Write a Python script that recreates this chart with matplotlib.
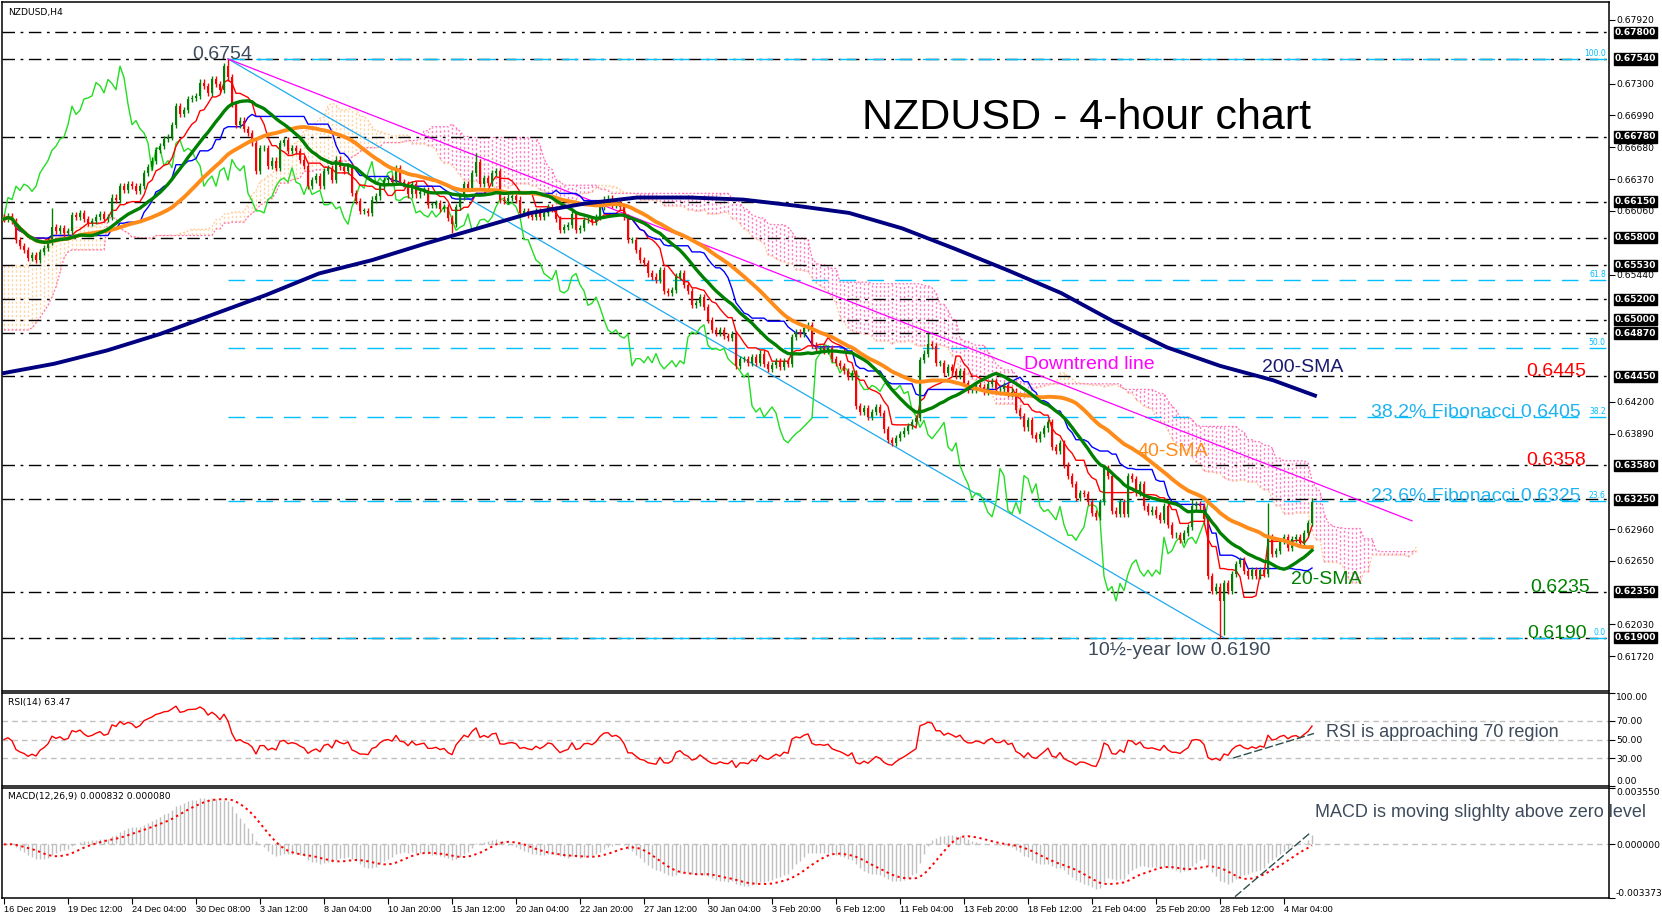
import numpy as np
import pandas as pd
import matplotlib
matplotlib.use("Agg")
import matplotlib.pyplot as plt

# ---- data (H4 closes, bar 0 = 16 Dec 2019 00:00) ----
closes = [
    0.6598, 0.6601, 0.6596, 0.6578, 0.6572, 0.6568, 0.6560, 0.6563, 0.6558, 0.6566, 0.6570, 0.6576, 0.6590, 0.6586, 0.6589, 0.6584,
    0.6586, 0.6602, 0.6600, 0.6604, 0.6598, 0.6594, 0.6596, 0.6600, 0.6603, 0.6598, 0.6600, 0.6619, 0.6617, 0.6630, 0.6626, 0.6632,
    0.6630, 0.6625, 0.6630, 0.6643, 0.6649, 0.6655, 0.6665, 0.6669, 0.6676, 0.6678, 0.6690, 0.6708, 0.6700, 0.6704, 0.6715, 0.6716,
    0.6718, 0.6731, 0.6728, 0.6721, 0.6734, 0.6730, 0.6724, 0.6747, 0.6736, 0.6710, 0.6690, 0.6694, 0.6686, 0.6682, 0.6672, 0.6645,
    0.6667, 0.6667, 0.6650, 0.6655, 0.6648, 0.6672, 0.6675, 0.6664, 0.6667, 0.6664, 0.6656, 0.6650, 0.6630, 0.6636, 0.6640, 0.6630,
    0.6645, 0.6648, 0.6636, 0.6656, 0.6649, 0.6645, 0.6650, 0.6623, 0.6616, 0.6606, 0.6606, 0.6604, 0.6617, 0.6620, 0.6630, 0.6636,
    0.6638, 0.6634, 0.6648, 0.6634, 0.6632, 0.6622, 0.6632, 0.6622, 0.6624, 0.6626, 0.6612, 0.6612, 0.6614, 0.6608, 0.6610, 0.6599,
    0.6593, 0.6610, 0.6620, 0.6632, 0.6628, 0.6643, 0.6654, 0.6632, 0.6638, 0.6633, 0.6643, 0.6645, 0.6617, 0.6616, 0.6619, 0.6620,
    0.6617, 0.6604, 0.6606, 0.6602, 0.6600, 0.6606, 0.6600, 0.6604, 0.6610, 0.6608, 0.6598, 0.6587, 0.6590, 0.6592, 0.6603, 0.6587,
    0.6589, 0.6597, 0.6598, 0.6595, 0.6600, 0.6610, 0.6617, 0.6618, 0.6612, 0.6614, 0.6610, 0.6600, 0.6578, 0.6578, 0.6568, 0.6558,
    0.6555, 0.6545, 0.6542, 0.6539, 0.6548, 0.6528, 0.6526, 0.6529, 0.6542, 0.6545, 0.6534, 0.6528, 0.6514, 0.6516, 0.6522, 0.6512,
    0.6500, 0.6490, 0.6487, 0.6490, 0.6484, 0.6482, 0.6486, 0.6455, 0.6462, 0.6462, 0.6458, 0.6464, 0.6458, 0.6467, 0.6457, 0.6452,
    0.6456, 0.6460, 0.6454, 0.6460, 0.6457, 0.6483, 0.6488, 0.6486, 0.6492, 0.6495, 0.6475, 0.6471, 0.6472, 0.6470, 0.6472, 0.6462,
    0.6458, 0.6455, 0.6450, 0.6444, 0.6448, 0.6416, 0.6410, 0.6414, 0.6405, 0.6410, 0.6415, 0.6409, 0.6393, 0.6383, 0.6380, 0.6385,
    0.6389, 0.6392, 0.6396, 0.6400, 0.6404, 0.6461, 0.6467, 0.6476, 0.6474, 0.6458, 0.6458, 0.6448, 0.6454, 0.6450, 0.6445, 0.6450,
    0.6438, 0.6432, 0.6432, 0.6436, 0.6434, 0.6430, 0.6437, 0.6440, 0.6432, 0.6432, 0.6436, 0.6428, 0.6430, 0.6412, 0.6406, 0.6395,
    0.6402, 0.6388, 0.6384, 0.6389, 0.6394, 0.6400, 0.6376, 0.6372, 0.6380, 0.6358, 0.6348, 0.6340, 0.6326, 0.6331, 0.6330, 0.6322,
    0.6312, 0.6308, 0.6322, 0.6355, 0.6348, 0.6314, 0.6311, 0.6322, 0.6311, 0.6348, 0.6345, 0.6331, 0.6340, 0.6318, 0.6313, 0.6315,
    0.6310, 0.6305, 0.6318, 0.6300, 0.6290, 0.6290, 0.6285, 0.6292, 0.6298, 0.6318, 0.6320, 0.6318, 0.6306, 0.6250, 0.6236, 0.6240,
    0.6226, 0.6243, 0.6236, 0.6252, 0.6262, 0.6266, 0.6255, 0.6250, 0.6256, 0.6250, 0.6256, 0.6252, 0.6288, 0.6272, 0.6275, 0.6284,
    0.6288, 0.6278, 0.6286, 0.6288, 0.6282, 0.6292, 0.6302, 0.6322,
]
first_open = 0.6600
# wick extremes that stand out on the chart
wick_highs = {12: 0.6609, 56: 0.6754, 118: 0.6662, 231: 0.6487, 297: 0.6325, 316: 0.6321, 327: 0.6326}
wick_lows = {112: 0.6584, 304: 0.6190, 305: 0.6193}

# cloud over the first 26 bars comes from data before the chart: read directly
spanA_pre = [0.6552, 0.6552, 0.6553, 0.6553, 0.6552, 0.6552, 0.6554, 0.6556, 0.6562, 0.6566, 0.6569, 0.6570, 0.6572,
             0.6576, 0.6580, 0.6584, 0.6586, 0.6588, 0.6590, 0.6590, 0.6591, 0.6591, 0.6590, 0.6592, 0.6593, 0.6593]
spanB_pre = [0.6490, 0.6490, 0.6490, 0.6490, 0.6490, 0.6490, 0.6490, 0.6492, 0.6497, 0.6502, 0.6508, 0.6514, 0.6522,
             0.6532, 0.6546, 0.6560, 0.6566, 0.6568, 0.6568, 0.6568, 0.6568, 0.6568, 0.6568, 0.6568, 0.6568, 0.6568]

# 200-SMA (needs history before the chart, so read directly)
sma200_bars = [0, 12.5, 25.75, 39, 52.25, 65.5, 78.75, 92, 105.25, 118.5, 131.75, 145, 158.25,
               171.5, 184.75, 198, 211.25, 224.5, 237.75, 251, 264.25, 277.5, 290.75, 304, 317.25, 327.75]
sma200_vals = [0.6448, 0.6457, 0.6470, 0.6486, 0.6505, 0.6524, 0.6545, 0.6558, 0.6574, 0.6589, 0.6604, 0.6613, 0.6619,
               0.6619, 0.6617, 0.6611, 0.6604, 0.6589, 0.6569, 0.6548, 0.6526, 0.6498, 0.6473, 0.6455, 0.6441, 0.6426]

levels = [0.6780, 0.6754, 0.6678, 0.6615, 0.6580, 0.6553, 0.6520, 0.6500, 0.6487, 0.6445, 0.6358, 0.6325, 0.6235, 0.6190]
fib_pcts = [100.0, 61.8, 50.0, 38.2, 23.6, 0.0]
fib_high, fib_low = 0.6754, 0.6190
peak_bar, low_bar = 56, 305
trend_end_bar, trend_end_val = 352, 0.6304
rsi_seed = 0.0003  # starting average move for the RSI smoothing

date_labels = ["16 Dec 2019", "19 Dec 12:00", "24 Dec 04:00", "30 Dec 08:00", "3 Jan 12:00", "8 Jan 04:00",
               "10 Jan 20:00", "15 Jan 12:00", "20 Jan 04:00", "22 Jan 20:00", "27 Jan 12:00", "30 Jan 04:00",
               "3 Feb 20:00", "6 Feb 12:00", "11 Feb 04:00", "13 Feb 20:00", "18 Feb 12:00", "21 Feb 04:00",
               "25 Feb 20:00", "28 Feb 12:00", "4 Mar 04:00"]
price_ticks = [0.61720, 0.62030, 0.62340, 0.62650, 0.62960, 0.63270, 0.63580, 0.63890, 0.64200, 0.64510, 0.64820,
               0.65130, 0.65440, 0.65750, 0.66060, 0.66370, 0.66680, 0.66990, 0.67300, 0.67610, 0.67920]

# ---- derived series ----
c = np.array(closes)
n = len(c)
x = np.arange(n)
o = np.r_[first_open, c[:-1]]
WICK = 0.0003
hi = np.maximum(o, c) + WICK
lo = np.minimum(o, c) - WICK
for k, v in wick_highs.items():
    hi[k] = v
for k, v in wick_lows.items():
    lo[k] = v

s = pd.Series(c)
H = pd.Series(hi)
L = pd.Series(lo)
sma20 = s.rolling(20, min_periods=1).mean()
sma40 = s.rolling(40, min_periods=1).mean()
tenkan = (H.rolling(9, min_periods=1).max() + L.rolling(9, min_periods=1).min()) / 2
kijun = (H.rolling(26, min_periods=1).max() + L.rolling(26, min_periods=1).min()) / 2
spanA = np.r_[spanA_pre, ((tenkan + kijun) / 2).values]
spanB = np.r_[spanB_pre, ((H.rolling(52, min_periods=1).max() + L.rolling(52, min_periods=1).min()) / 2).values]
xs = np.arange(len(spanA))

# RSI(14), Wilder smoothing
ag, al = rsi_seed, rsi_seed
rsi = [50.0]
for d in np.diff(c):
    ag = (ag * 13 + max(d, 0)) / 14
    al = (al * 13 + max(-d, 0)) / 14
    rsi.append(100 - 100 / (1 + ag / al))

ema12 = s.ewm(span=12, adjust=False).mean()
ema26 = s.ewm(span=26, adjust=False).mean()
macd = ema12 - ema26
signal = macd.rolling(9, min_periods=1).mean()

# ---- figure ----
W, Hpx = 1662, 919
fig = plt.figure(figsize=(W / 100, Hpx / 100), dpi=100)
fig.patch.set_facecolor("white")

def frac(top, bottom):
    return [2 / W, 1 - bottom / Hpx, 1607 / W, (bottom - top) / Hpx]

ax = fig.add_axes(frac(2, 691))
ax_rsi = fig.add_axes(frac(693, 786))
ax_macd = fig.add_axes(frac(788, 898))
XL = (-0.5, 401.25)
SMALL = 6.6
ANN = "Liberation Sans"

for a in (ax, ax_rsi, ax_macd):
    a.set_xlim(*XL)
    for sp in a.spines.values():
        sp.set_linewidth(1.1)
        sp.set_color("black")
    a.yaxis.tick_right()
    a.tick_params(axis="y", direction="out", length=4, width=0.8, labelsize=SMALL, pad=1)
    a.tick_params(axis="x", bottom=False, labelbottom=False)

# main panel
ax.set_ylim(0.61382, 0.68095)
shown_ticks = [t for t in price_ticks if min(abs(t - lv) for lv in levels) > 0.00085]
ax.set_yticks(shown_ticks)
ax.set_yticklabels(["%.5f" % t for t in shown_ticks])

# ichimoku cloud
for xi, a_, b_ in zip(xs, spanA, spanB):
    col = "#FFD4A0" if a_ >= b_ else "#FF7CC4"
    ax.vlines(xi, min(a_, b_), max(a_, b_), colors=col, linewidth=1.0, linestyles=(0, (1.6, 1.6)), zorder=1)
ax.plot(xs, spanA, color="#FFC890", lw=0.9, ls=(0, (1.5, 1.5)), zorder=1)
ax.plot(xs, spanB, color="#FF6EB4", lw=0.9, ls=(0, (1.5, 1.5)), zorder=1)

for lv in levels:
    ax.axhline(lv, color="black", lw=1.0, ls=(0, (9, 4, 2, 4)), zorder=2)
for p in fib_pcts:
    lv = fib_low + (fib_high - fib_low) * p / 100
    ax.plot([peak_bar, XL[1]], [lv, lv], color="#00BFFF", lw=1.0, ls=(0, (12, 8)), zorder=2)
    ax.text(0.998, lv + 0.0001, "%.1f" % p, transform=ax.get_yaxis_transform(), ha="right", va="bottom",
            fontsize=5.5, color="#00BFFF", zorder=6)

# channel + downtrend line
ax.plot([peak_bar, low_bar], [fib_high, fib_low], color="#1EAAF0", lw=0.9, zorder=3)
ax.plot([peak_bar, trend_end_bar], [fib_high, trend_end_val], color="#FF00FF", lw=0.9, zorder=3)

# chikou, tenkan, kijun
ax.plot(x[26:] - 26, c[26:], color="#22DD22", lw=1.0, zorder=4)
ax.plot(x, tenkan, color="#FF0000", lw=1.0, zorder=4)
ax.plot(x, kijun, color="#0000FF", lw=1.0, zorder=4)

# candles
up = c >= o
cols = np.where(up, "#008000", "#FF0000")
ax.vlines(x, lo, hi, colors=cols, linewidth=1.0, zorder=5)
body = np.maximum(np.abs(c - o), 0.00004)
ax.bar(x, body, bottom=np.minimum(o, c), width=0.72, color=cols, linewidth=0, zorder=5)

# moving averages
ax.plot(x, sma40, color="#FF8C1A", lw=2.8, zorder=6)
ax.plot(x, sma20, color="#008000", lw=2.4, zorder=6)
ax.plot(sma200_bars, sma200_vals, color="#000080", lw=2.8, zorder=6)

# level boxes on the right scale
for lv in levels:
    ax.text(1.0035, lv, "%.5f" % lv, transform=ax.get_yaxis_transform(), ha="left", va="center",
            fontsize=SMALL, color="white", fontweight="bold", clip_on=False, zorder=10,
            bbox=dict(boxstyle="square,pad=0.12", fc="black", ec="black"))

# annotations
ax.text(0.004, 0.992, "NZDUSD,H4", transform=ax.transAxes, ha="left", va="top", fontsize=SMALL)
ax.text(54.5, fib_high, "0.6754", ha="center", va="baseline", fontsize=14, color="#3D4B5B", family=ANN, zorder=8)
fig.text(1087 / W, 1 - 129 / Hpx, "NZDUSD - 4-hour chart", ha="center", va="baseline", fontsize=31,
         color="black", family=ANN)
ax.text(255, 0.6452, "Downtrend line", ha="left", va="baseline", fontsize=14, color="#FF00FF", family=ANN, zorder=8)
ax.text(314.5, 0.6449, "200-SMA", ha="left", va="baseline", fontsize=14, color="#191970", family=ANN, zorder=8)
ax.text(283.5, 0.6367, "40-SMA", ha="left", va="baseline", fontsize=14, color="#FF8C1A", family=ANN, zorder=8)
ax.text(321.75, 0.6242, "20-SMA", ha="left", va="baseline", fontsize=14, color="#008000", family=ANN, zorder=8)
ax.text(395.5, 0.6445, "0.6445", ha="right", va="baseline", fontsize=14, color="#FF0000", family=ANN, zorder=8)
ax.text(395.5, 0.6358, "0.6358", ha="right", va="baseline", fontsize=14, color="#FF0000", family=ANN, zorder=8)
ax.text(394.25, 0.64055, "38.2% Fibonacci 0.6405", ha="right", va="baseline", fontsize=14, color="#1FB2F0", family=ANN, zorder=8)
ax.text(394.25, 0.6323, "23.6% Fibonacci 0.6325", ha="right", va="baseline", fontsize=14, color="#1FB2F0", family=ANN, zorder=8)
ax.text(396.5, 0.6235, "0.6235", ha="right", va="baseline", fontsize=14, color="#008000", family=ANN, zorder=8)
ax.text(395.75, 0.6190, "0.6190", ha="right", va="baseline", fontsize=14, color="#008000", family=ANN, zorder=8)
ax.text(271, 0.6173, "10½-year low 0.6190", ha="left", va="baseline", fontsize=14, color="#3D4B5B", family=ANN, zorder=8)

# RSI panel
ax_rsi.set_ylim(0, 100)
for lv in (30, 50, 70):
    ax_rsi.axhline(lv, color="#C0C0C0", lw=1.0, ls=(0, (4, 3)))
ax_rsi.plot(x, rsi, color="#FF0000", lw=1.0)
ax_rsi.plot([307.25, 327.5], [30, 56.5], color="#2F4F4F", lw=1.0, ls=(0, (6, 2)))
ax_rsi.set_yticks([100, 70, 50, 30, 0])
ax_rsi.set_yticklabels(["100.00", "70.00", "50.00", "30.00", "0.00"])
rl = ax_rsi.get_yticklabels()
rl[0].set_va("top")
rl[-1].set_va("bottom")
ax_rsi.text(0.004, 0.95, "RSI(14) 63.47", transform=ax_rsi.transAxes, ha="left", va="top", fontsize=SMALL)
ax_rsi.text(330.5, 57, "RSI is approaching 70 region", ha="left", va="center", fontsize=13,
            color="#3D4B5B", family=ANN)

# MACD panel
ax_macd.set_ylim(-0.003373, 0.003550)
ax_macd.axhline(0, color="#C0C0C0", lw=1.0, ls=(0, (4, 3)))
ax_macd.vlines(x, 0, macd, colors="#C0C0C0", linewidth=1.0)
ax_macd.plot(x, signal, color="#FF0000", lw=1.4, ls=(0, (1.2, 1.8)))
ax_macd.plot([307.75, 326.75], [-0.00329, 0.00077], color="#2F4F4F", lw=1.0, ls=(0, (6, 2)))
ax_macd.set_yticks([0.003550, 0.0, -0.003373])
ax_macd.set_yticklabels(["0.003550", "0.000000", "-0.003373"])
ml = ax_macd.get_yticklabels()
ml[0].set_va("top")
ml[-1].set_va("bottom")
ax_macd.text(0.004, 0.96, "MACD(12,26,9) 0.000832 0.000080", transform=ax_macd.transAxes, ha="left", va="top",
             fontsize=SMALL)
ax_macd.text(327.75, 0.00203, "MACD is moving slighlty above zero level", ha="left", va="center", fontsize=13,
             color="#3D4B5B", family=ANN)
ax_macd.set_xticks(np.arange(len(date_labels)) * 16)
ax_macd.set_xticklabels(date_labels, ha="left", family=ANN)
ax_macd.tick_params(axis="x", bottom=True, labelbottom=True, direction="out", length=4, width=0.8,
                    labelsize=6.6, pad=1)

fig.savefig("out.png", dpi=100)
